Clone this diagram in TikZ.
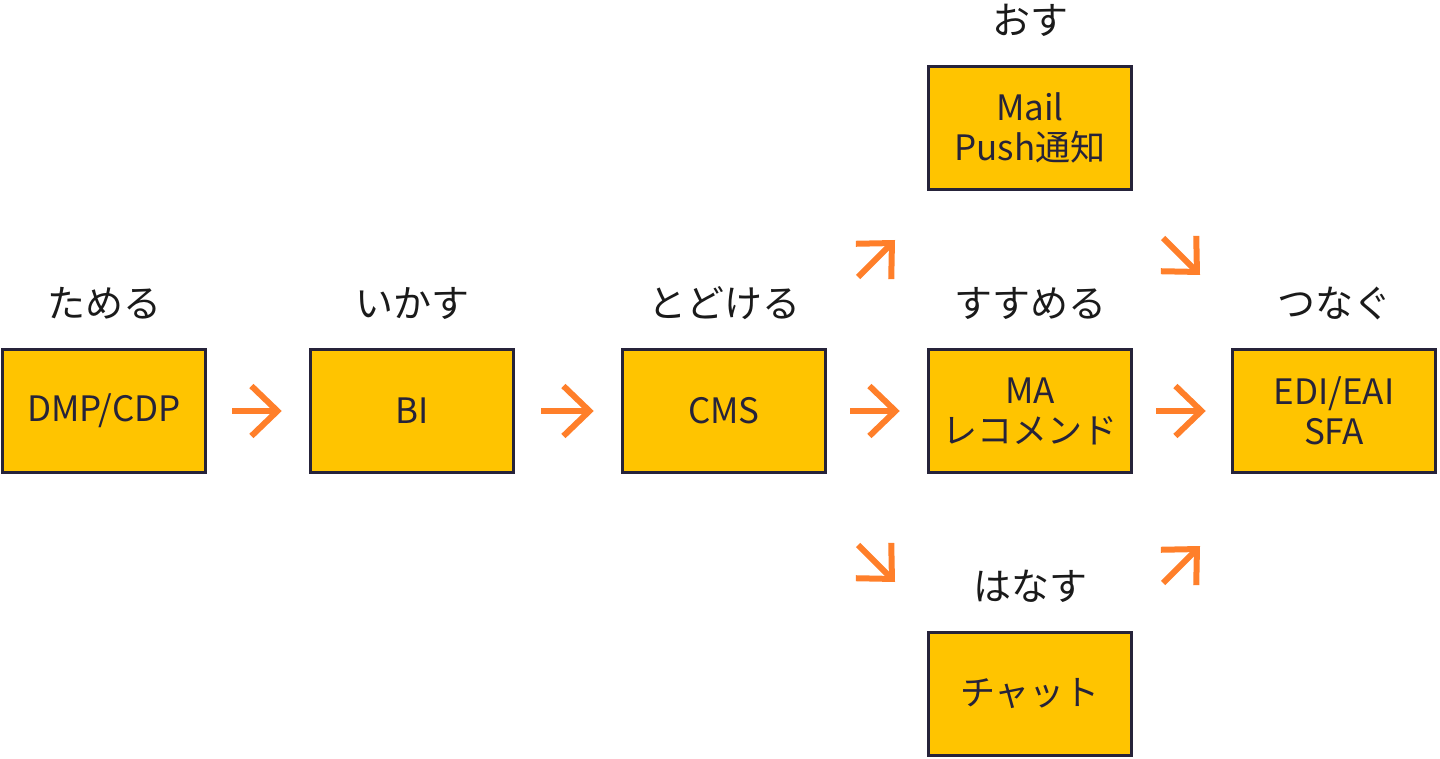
\documentclass[tikz,border=0pt]{standalone}
\usepackage{fontspec}
\setmainfont{Noto Sans CJK JP}
\usetikzlibrary{arrows.meta}
\usetikzlibrary{positioning}
\definecolor{boxfill}{HTML}{FFC400}
\definecolor{boxline}{HTML}{26233A}
\definecolor{arrowc}{HTML}{FF7F2A}
\definecolor{labelc}{HTML}{1A1A1A}

\tikzset{
    stage/.style={draw=boxline, line width=3.5pt, fill=boxfill, minimum width=203pt, minimum height=123pt,
                  inner sep=0pt, align=center, text=boxline, font=\fontsize{35}{40}\selectfont},
    verb/.style={text=labelc, font=\fontsize{38}{44}\selectfont},
    flow/.style={draw=arrowc, line width=6pt, -{Straight Barb[length=26pt, width=50pt, line join=miter]}}
}

\begin{document}
\begin{tikzpicture}[x=1pt, y=-1pt]
    \useasboundingbox (0,0) rectangle (1440,759);

    % Stage boxes
    \node [stage] (dmp) at (104,411) {DMP/CDP};
    \node [stage] (bi)  at (412,411) {BI};
    \node [stage] (cms) at (724,411) {CMS};
    \node [stage] (ma)  at (1030,411) {MA\\レコメンド};
    \node [stage] (edi) at (1334,411) {EDI/EAI\\SFA};
    \node [stage] (mail) at (1030,128) {Mail\\Push通知};
    \node [stage] (chat) at (1030,694) {チャット};

    % Verbs above the boxes
    \node [verb] (tameru)   at (104,303) {ためる};
    \node [verb] (ikasu)    at (412,303) {いかす};
    \node [verb] (todokeru) at (724,303) {とどける};
    \node [verb] (susumeru) at (1030,303) {すすめる};
    \node [verb] (tsunagu)  at (1334,303) {つなぐ};
    \node [verb] (osu)      at (1030,20) {おす};
    \node [verb] (hanasu)   at (1030,586) {はなす};

    % Straight arrows
    \draw [flow, shorten <=25pt, shorten >=27pt] (dmp) -- (bi);
    \draw [flow, shorten <=26pt, shorten >=27pt] (bi) -- (cms);
    \draw [flow, shorten <=23pt, shorten >=27pt] (cms) -- (ma);
    \draw [flow, shorten <=23pt, shorten >=25pt] (ma) -- (edi);

    % Diagonal arrows
    \coordinate (upA) at (858,277);
    \coordinate (upB) at (895,240);
    \coordinate (dnA) at (1163,238);
    \coordinate (dnB) at (1200,275);
    \coordinate (dcA) at (858,545);
    \coordinate (dcB) at (895,582);
    \coordinate (ueA) at (1163,583);
    \coordinate (ueB) at (1200,546);

    \draw [flow] (upA) -- (upB);
    \draw [flow] (dnA) -- (dnB);
    \draw [flow] (dcA) -- (dcB);
    \draw [flow] (ueA) -- (ueB);

\end{tikzpicture}
\end{document}
